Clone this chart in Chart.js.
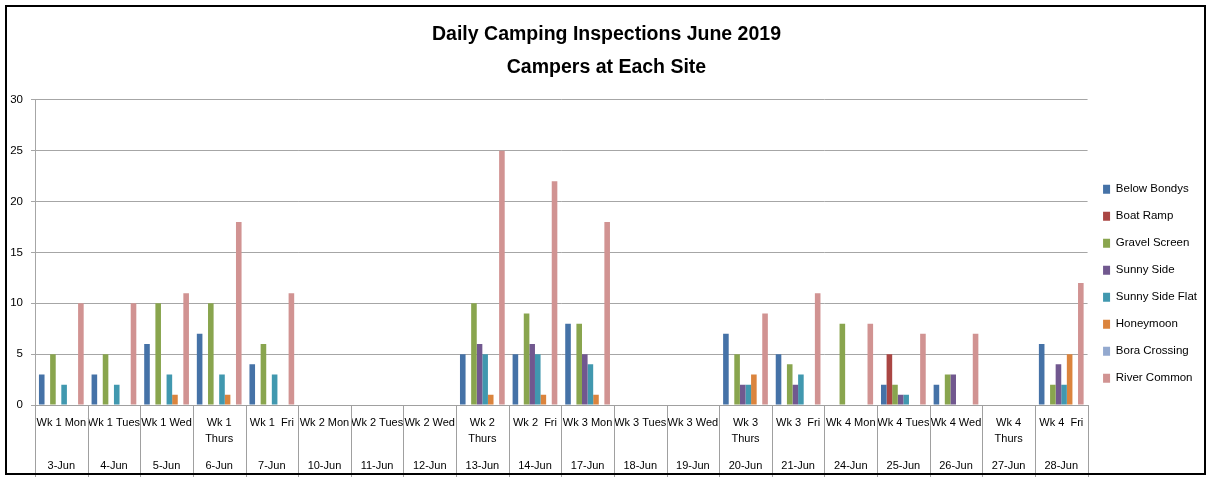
<!DOCTYPE html>
<html>
<head>
<meta charset="utf-8">
<script src="https://cdn.jsdelivr.net/npm/chart.js@4"></script>
<style>
  html, body { margin: 0; padding: 0; background: #fff; }
  #wrap { width: 1211px; height: 481px; position: relative; }
</style>
</head>
<body>
<div id="wrap"><canvas id="campChart" width="1211" height="481"></canvas></div>
<script>
// ---- data ----
const dayLabels = [
    ['Wk 1 Mon'], ['Wk 1 Tues'], ['Wk 1 Wed'], ['Wk 1', 'Thurs'], ['Wk 1  Fri'],
    ['Wk 2 Mon'], ['Wk 2 Tues'], ['Wk 2 Wed'], ['Wk 2', 'Thurs'], ['Wk 2  Fri'],
    ['Wk 3 Mon'], ['Wk 3 Tues'], ['Wk 3 Wed'], ['Wk 3', 'Thurs'], ['Wk 3  Fri'],
    ['Wk 4 Mon'], ['Wk 4 Tues'], ['Wk 4 Wed'], ['Wk 4', 'Thurs'], ['Wk 4  Fri']
];
const dateLabels = ['3-Jun', '4-Jun', '5-Jun', '6-Jun', '7-Jun', '10-Jun', '11-Jun', '12-Jun', '13-Jun', '14-Jun',
    '17-Jun', '18-Jun', '19-Jun', '20-Jun', '21-Jun', '24-Jun', '25-Jun', '26-Jun', '27-Jun', '28-Jun'];
const yTicks = [0, 5, 10, 15, 20, 25, 30];

const belowBondys   = [3, 3, 6, 7, 4, 0, 0, 0, 5, 5, 8, 0, 0, 7, 5, 0, 2, 2, 0, 6];
const boatRamp      = [0, 0, 0, 0, 0, 0, 0, 0, 0, 0, 0, 0, 0, 0, 0, 0, 5, 0, 0, 0];
const gravelScreen  = [5, 5, 10, 10, 6, 0, 0, 0, 10, 9, 8, 0, 0, 5, 4, 8, 2, 3, 0, 2];
const sunnySide     = [0, 0, 0, 0, 0, 0, 0, 0, 6, 6, 5, 0, 0, 2, 2, 0, 1, 3, 0, 4];
const sunnySideFlat = [2, 2, 3, 3, 3, 0, 0, 0, 5, 5, 4, 0, 0, 2, 3, 0, 1, 0, 0, 2];
const honeymoon     = [0, 0, 1, 1, 0, 0, 0, 0, 1, 1, 1, 0, 0, 3, 0, 0, 0, 0, 0, 5];
const boraCrossing  = [0, 0, 0, 0, 0, 0, 0, 0, 0, 0, 0, 0, 0, 0, 0, 0, 0, 0, 0, 0];
const riverCommon   = [10, 10, 11, 18, 11, 0, 0, 0, 25, 22, 18, 0, 0, 9, 11, 8, 7, 7, 0, 12];

const seriesNames  = ['Below Bondys', 'Boat Ramp', 'Gravel Screen', 'Sunny Side', 'Sunny Side Flat', 'Honeymoon', 'Bora Crossing', 'River Common'];
const seriesValues = [belowBondys, boatRamp, gravelScreen, sunnySide, sunnySideFlat, honeymoon, boraCrossing, riverCommon];
const seriesColors = ['#4572A7', '#AA4643', '#89A54E', '#71588F', '#4198AF', '#DB843D', '#93A9CF', '#D19392'];

const FONT = "'Liberation Sans', Arial, sans-serif";

// frame round the whole chart + the category separators under the axis
const framePlugin = {
    id: 'frame',
    beforeDraw(chart) {
        const c = chart.ctx;
        c.save();
        c.fillStyle = '#fff';
        c.fillRect(0, 0, chart.width, chart.height);
        c.restore();
    },
    afterDraw(chart) {
        const c = chart.ctx;
        const xs = chart.scales.x;
        const x2 = chart.scales.x2;
        const area = chart.chartArea;
        const w = xs.getPixelForValue(1) - xs.getPixelForValue(0);
        c.save();
        c.strokeStyle = '#a0a0a0';
        c.lineWidth = 1;
        for (let i = 0; i <= dateLabels.length; i++) {
            const px = Math.round(xs.getPixelForValue(0) - w / 2 + i * w) + 0.5;
            c.beginPath();
            c.moveTo(px, area.bottom);
            c.lineTo(px, x2.bottom);
            c.stroke();
        }
        c.strokeStyle = '#000';
        c.lineWidth = 2;
        c.strokeRect(6, 6, 1199, 468);
        c.restore();
    }
};

const ctx = document.getElementById('campChart').getContext('2d');
new Chart(ctx, {
    type: 'bar',
    data: {
        labels: dateLabels,
        datasets: seriesNames.map((name, i) => ({
            label: name,
            data: seriesValues[i],
            backgroundColor: seriesColors[i],
            borderWidth: 0,
            barPercentage: 1.0,
            categoryPercentage: 0.85,
            xAxisID: 'x'
        }))
    },
    options: {
        responsive: false,
        animation: false,
        layout: { padding: { left: 6, right: 4, top: 6, bottom: 4 } },
        plugins: {
            title: {
                display: true,
                text: ['Daily Camping Inspections June 2019', 'Campers at Each Site'],
                color: '#000',
                font: { family: FONT, size: 19.5, weight: 'bold', lineHeight: 1.65 },
                padding: { top: 13, bottom: 16.6 }
            },
            legend: {
                position: 'right',
                title: {
                    display: true,
                    text: ' ',
                    font: { size: 12, lineHeight: 1.2 },
                    padding: { top: 35, bottom: 35 }
                },
                labels: {
                    boxWidth: 7,
                    boxHeight: 9,
                    padding: 15.5,
                    color: '#000',
                    font: { family: FONT, size: 11.5 }
                }
            },
            tooltip: { enabled: false }
        },
        scales: {
            y: {
                min: 0,
                max: 30,
                afterBuildTicks: (axis) => { axis.ticks = yTicks.map(v => ({ value: v })); },
                afterFit: (axis) => { axis.width = 29; },
                ticks: { color: '#000', font: { family: FONT, size: 11.5 }, padding: 8 },
                grid: { color: '#a6a6a6', tickLength: 4 },
                border: { color: '#a6a6a6' }
            },
            x: {
                type: 'category',
                labels: dayLabels,
                offset: true,
                afterFit: (axis) => { axis.height = 50; },
                ticks: {
                    autoSkip: false, maxRotation: 0, minRotation: 0,
                    color: '#000', font: { family: FONT, size: 11, lineHeight: 1.45 }, padding: 2
                },
                grid: { display: false },
                border: { display: true, color: '#a0a0a0' }
            },
            x2: {
                type: 'category',
                position: 'bottom',
                labels: dateLabels,
                offset: true,
                afterFit: (axis) => { axis.height = 22; },
                ticks: {
                    autoSkip: false, maxRotation: 0, minRotation: 0,
                    color: '#000', font: { family: FONT, size: 11 }, padding: 4
                },
                grid: { display: false, drawTicks: false },
                border: { display: false }
            }
        }
    },
    plugins: [framePlugin]
});
</script>
</body>
</html>
